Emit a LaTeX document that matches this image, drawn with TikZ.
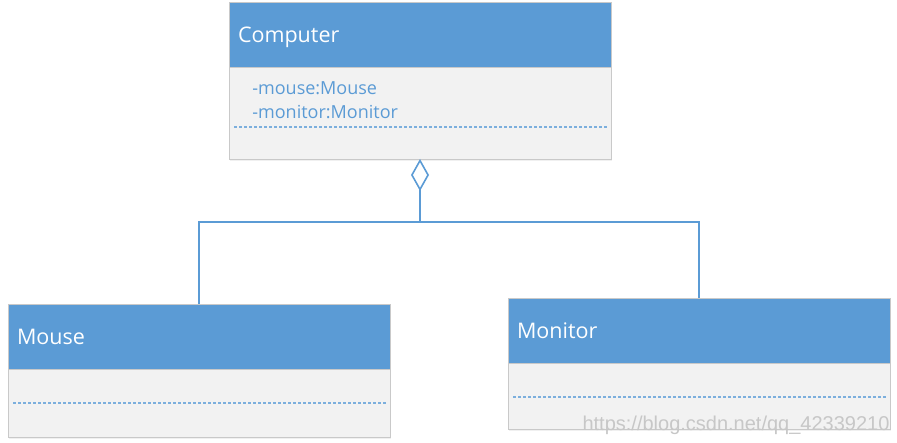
\documentclass[tikz,border=0pt]{standalone}
\usepackage{fontspec}
\setmainfont{Open Sans}
\newfontfamily\wmfont{Liberation Sans}
\usepackage{xcolor}
\usepackage{tikz}
\usetikzlibrary{arrows.meta}
\usetikzlibrary{positioning}
\usetikzlibrary{shadows,calc}
\definecolor{umlblue}{HTML}{5B9BD5}
\definecolor{umlgray}{HTML}{F2F2F2}
\definecolor{umlline}{HTML}{C9C9C9}
\begin{document}
\begin{tikzpicture}[x=1pt,y=-1pt,semithick]
 \tikzstyle{head}=[draw=umlline, fill=umlblue, text=white, shape=rectangle, anchor=north west, inner xsep=9pt, inner ysep=0pt, outer sep=0pt, minimum height=65pt, text width=364pt, text depth=0pt, align=left, font=\fontsize{21.5}{25}\selectfont, line width=0.8pt]
 \tikzstyle{body}=[draw=umlline, fill=umlgray, shape=rectangle, inner sep=0pt, outer sep=0pt, minimum width=382pt, line width=0.8pt, drop shadow={opacity=0.12, shadow xshift=1pt, shadow yshift=-2pt}]
 \tikzstyle{attr}=[text=umlblue, inner sep=0pt, anchor=north west, align=left, font=\fontsize{18}{24}\selectfont]
 \tikzstyle{dashline}=[umlblue!80, line width=1.2pt, dash pattern=on 3pt off 2pt]
 \tikzstyle{link}=[draw=umlblue, line width=1.6pt]
 \tikzstyle{wmark}=[text=black!22, inner sep=0pt, font=\wmfont\fontsize{20}{22}\selectfont]
 \useasboundingbox (0,0) rectangle (897,443);
  \node[head] (CH) at (229,2) {Computer};
  \node[body, minimum height=92pt] (CB) [below=0pt of CH] {};
  \node[attr] (CA) [below right=14pt and 23pt of CB.north west] {-mouse:Mouse\\-monitor:Monitor};
\node[head] (MH) at (8,304) {Mouse};
\node[body, minimum height=68pt] (MB) [below=0pt of MH] {};
\node[head] (NH) at (508,298) {Monitor};
\node[body, minimum height=66pt] (NB) [below=0pt of NH] {};
\node[wmark] (W) at (736,425) {https://blog.csdn.net/qq\_42339210};
\coordinate (J) at (420,222);
\draw[dashline] ([xshift=5pt,yshift=-60pt]CB.north west) -- ([xshift=-4pt,yshift=-60pt]CB.north east);
\draw[dashline] ([xshift=5pt,yshift=-34pt]MB.north west) -- ([xshift=-4pt,yshift=-34pt]MB.north east);
\draw[dashline] ([xshift=5pt,yshift=-34pt]NB.north west) -- ([xshift=-4pt,yshift=-34pt]NB.north east);
\draw[link, -{Diamond[open, width=18pt, length=32pt]}] (MH.north) |- (J) -- (CB.south);
\draw[link] (NH.north) |- (J);
\end{tikzpicture}
\end{document}
